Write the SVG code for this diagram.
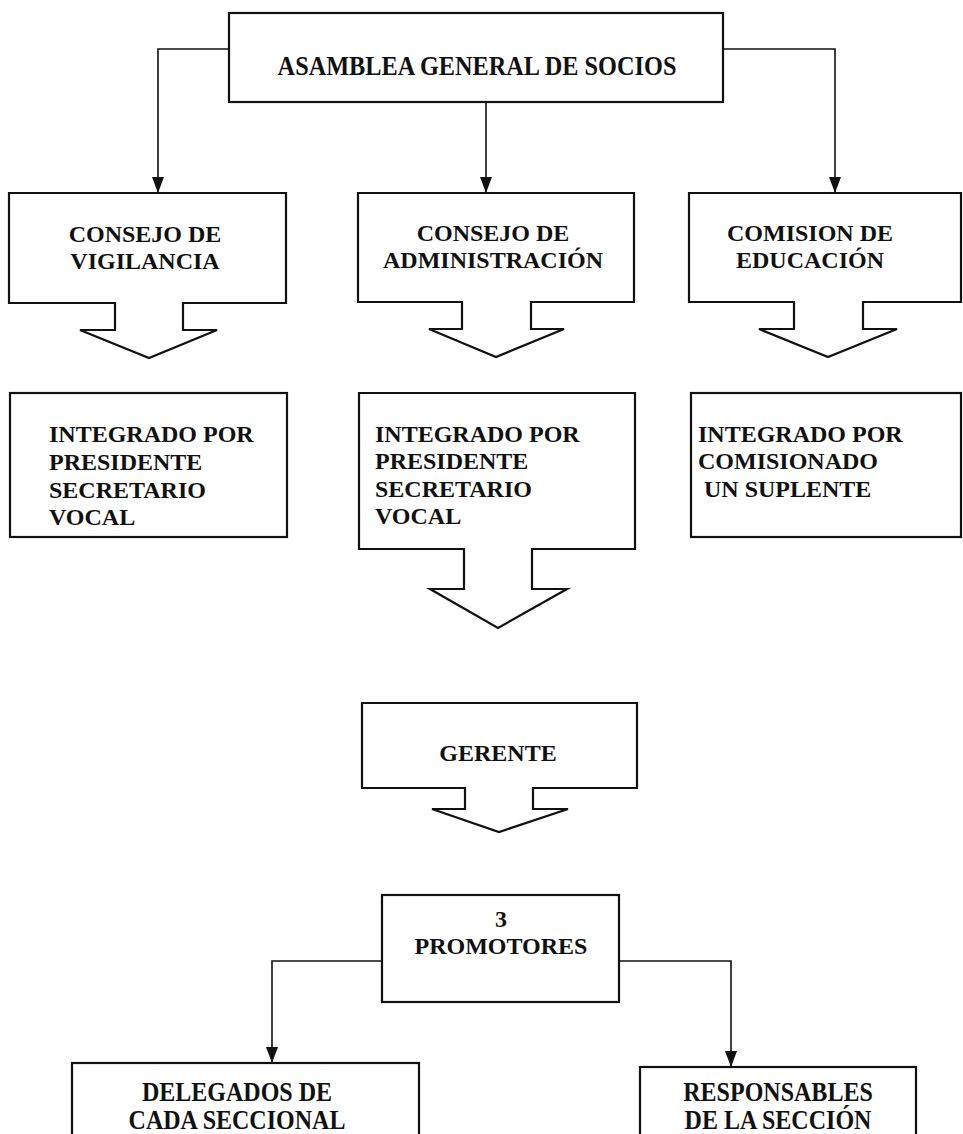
<svg xmlns="http://www.w3.org/2000/svg" width="963" height="1134" viewBox="0 0 963 1134">
<style>
.box{fill:#fff;stroke:#111;stroke-width:2.2}
.ln{fill:none;stroke:#111;stroke-width:1.6}
text{font-family:"Liberation Serif","Times New Roman",serif;font-weight:bold;font-size:24px;fill:#111}
.c{text-anchor:middle}
.big{font-size:27px}
</style>
<defs>
<marker id="ahd" viewBox="0 0 16 12" refX="16" refY="6" markerWidth="16" markerHeight="12" markerUnits="userSpaceOnUse" orient="auto">
<path d="M0,0 L16,6 L0,12 Z" fill="#111"/>
</marker>
</defs>
<rect width="963" height="1134" fill="#fff"/>
<g id="connectors">
<path class="ln" d="M229,49 H158 V193" marker-end="url(#ahd)"/>
<path class="ln" d="M486,102 V193" marker-end="url(#ahd)"/>
<path class="ln" d="M723,49 H835 V193" marker-end="url(#ahd)"/>
<path class="ln" d="M382,961 H272 V1063" marker-end="url(#ahd)"/>
<path class="ln" d="M619,961 H731 V1067" marker-end="url(#ahd)"/>
</g>
<g id="asamblea">
<rect class="box" x="229" y="13" width="494" height="89"/>
<text class="c big" transform="translate(477,75) scale(0.9,1)">ASAMBLEA GENERAL DE SOCIOS</text>
</g>
<g id="consejo-vigilancia">
<path class="box" d="M9,193 H286 V303 H183 V330 H217 L149,358 L80,330 H115 V303 H9 Z"/>
<text class="c" x="145" y="242">CONSEJO DE</text>
<text class="c" x="145" y="269">VIGILANCIA</text>
</g>
<g id="consejo-admin">
<path class="box" d="M358,193 H634 V302 H531 V329 H564 L496,357 L429,329 H462 V302 H358 Z"/>
<text class="c" x="493" y="241">CONSEJO DE</text>
<text class="c" x="493" y="268">ADMINISTRACIÓN</text>
</g>
<g id="comision-educacion">
<path class="box" d="M689,193 H961 V302 H863 V329 H897 L828,357 L759,329 H794 V302 H689 Z"/>
<text class="c" x="810" y="241">COMISION DE</text>
<text class="c" x="810" y="268">EDUCACIÓN</text>
</g>
<g id="integrado-vigilancia">
<rect class="box" x="10" y="393" width="277" height="144"/>
<text x="49" y="442">INTEGRADO POR</text>
<text x="49" y="470">PRESIDENTE</text>
<text x="49" y="498">SECRETARIO</text>
<text x="49" y="525">VOCAL</text>
</g>
<g id="integrado-admin">
<path class="box" d="M359,393 H635 V549 H532 V589 H567 L498,628 L430,589 H464 V549 H359 Z"/>
<text x="375" y="442">INTEGRADO POR</text>
<text x="375" y="469">PRESIDENTE</text>
<text x="375" y="497">SECRETARIO</text>
<text x="375" y="524">VOCAL</text>
</g>
<g id="integrado-educacion">
<rect class="box" x="691" y="393" width="270" height="144"/>
<text x="698" y="442">INTEGRADO POR</text>
<text x="698" y="469">COMISIONADO</text>
<text x="704" y="497">UN SUPLENTE</text>
</g>
<g id="gerente">
<path class="box" d="M362,703 H637 V788 H533 V809 H568 L499,832 L432,809 H465 V788 H362 Z"/>
<text class="c" x="498" y="761">GERENTE</text>
</g>
<g id="promotores">
<rect class="box" x="382" y="895" width="237" height="107"/>
<text class="c" x="501" y="927">3</text>
<text class="c" x="501" y="954">PROMOTORES</text>
</g>
<g id="delegados">
<rect class="box" x="72" y="1063" width="347" height="90"/>
<text class="c big" transform="translate(237,1101) scale(0.89,1)">DELEGADOS DE</text>
<text class="c big" transform="translate(237,1129) scale(0.89,1)">CADA SECCIONAL</text>
</g>
<g id="responsables">
<rect class="box" x="640" y="1067" width="276" height="90"/>
<text class="c big" transform="translate(778,1101) scale(0.89,1)">RESPONSABLES</text>
<text class="c big" transform="translate(778,1129) scale(0.89,1)">DE LA SECCIÓN</text>
</g>
</svg>
